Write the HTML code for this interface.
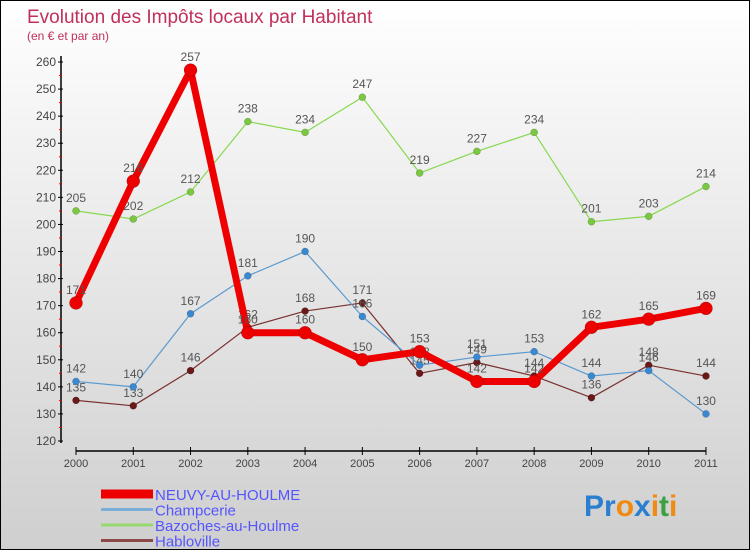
<!DOCTYPE html>
<html><head><meta charset="utf-8"><style>
body{margin:0}
#c{width:750px;height:550px;position:relative;background:linear-gradient(#ffffff,#f0f0f0 30%,#cfcfcf);border:1px solid #000;box-sizing:border-box;font-family:"Liberation Sans",sans-serif;overflow:hidden}
</style></head><body>
<div id="c">
<svg id="s" width="750" height="550" style="position:absolute;left:0;top:0">
<text x="26" y="22" font-size="19" fill="#c0305a">Evolution des Impôts locaux par Habitant</text>
<text x="26" y="39" font-size="12" fill="#c0305a">(en € et par an)</text>
<g id="axes"></g><g id="series"></g><g id="legend"></g>
<text x="583" y="515" font-size="30" font-weight="bold"><tspan fill="#2a7fd0">Pr</tspan><tspan fill="#f08a10">o</tspan><tspan fill="#2a7fd0">x</tspan><tspan fill="#f08a10">i</tspan><tspan fill="#3aa040">t</tspan><tspan fill="#f08a10">i</tspan></text>
</svg>
</div>
<script>
const years=[2000,2001,2002,2003,2004,2005,2006,2007,2008,2009,2010,2011];
const yTicks=[120,130,140,150,160,170,180,190,200,210,220,230,240,250,260];
const neuvy=[171,216,257,160,160,150,153,142,142,162,165,169];
const champcerie=[142,140,167,181,190,166,148,151,153,144,146,130];
const bazoches=[205,202,212,238,234,247,219,227,234,201,203,214];
const habloville=[135,133,146,162,168,171,145,149,144,136,148,144];
const seriesNames=["NEUVY-AU-HOULME","Champcerie","Bazoches-au-Houlme","Habloville"];
const NS="http://www.w3.org/2000/svg";
function X(i){return 75+i*57.27;}
function Y(v){return 440-(v-120)*2.707;}
function mk(tag,at,parent,txt){const e=document.createElementNS(NS,tag);for(const k in at)e.setAttribute(k,at[k]);if(txt!==undefined)e.textContent=txt;parent.appendChild(e);return e;}
const ax=document.getElementById('axes');
let l=mk('line',{x1:60,y1:55,x2:60,y2:442,stroke:'#000','stroke-width':1.5},ax);


l=mk('line',{x1:75,y1:450,x2:705,y2:450,stroke:'#000','stroke-width':1.5},ax);


yTicks.forEach(v=>{
 mk('line',{x1:57,y1:Y(v),x2:62,y2:Y(v),stroke:'#000'},ax);
 if(v<260) mk('line',{x1:58,y1:Y(v+5),x2:61,y2:Y(v+5),stroke:'#e00'},ax);
 const t=mk('text',{x:55,y:Y(v)+4,'text-anchor':'end','font-size':12,fill:'#444'},ax,v);
 
 
});
years.forEach((y,i)=>{
 mk('line',{x1:X(i),y1:446,x2:X(i),y2:454,stroke:'#000'},ax);
 const t=mk('text',{x:X(i),y:466,'text-anchor':'middle','font-size':11,fill:'#444'},ax,y);
 
 
});
const sg=document.getElementById('series');
const defs=[[bazoches,'#88d850','#7ac840',1.2,3.5],[habloville,'#7a3030','#6a1818',1.2,3.5],[champcerie,'#5a9ad0','#3a88d0',1.2,3.5],[neuvy,'#ee0000','#ee0000',7,6.5]];
const names=['bazoches','habloville','champcerie','neuvy'];
defs.forEach((d,k)=>{
 const g=mk('g',{},sg);
 
 
 const p=mk('polyline',{points:d[0].map((v,i)=>X(i)+','+Y(v)).join(' '),fill:'none',stroke:d[1],'stroke-width':d[3],'stroke-linejoin':'round'},g);
 
 
 d[0].forEach((v,i)=>{
  const c=mk('circle',{cx:X(i),cy:Y(v),r:d[4],fill:d[2],stroke:'rgba(0,0,0,0.3)','stroke-width':0.5},g);
  
  
  const t=mk('text',{x:X(i),y:Y(v)-9,'text-anchor':'middle','font-size':12,fill:'#555'},g,v);
  
  
 });
});
const lg=document.getElementById('legend');
const lc=['#ee0000','#7aaed8','#98d870','#8a4848'];const lw=[9,3,3,3];
seriesNames.forEach((n,k)=>{
 const y=493+k*15.5;
 const g=mk('g',{},lg);
 
 
 mk('line',{x1:100,y1:y,x2:152,y2:y,stroke:lc[k],'stroke-width':lw[k]},g);
 mk('text',{x:154,y:y+6,'font-size':15,fill:'#5555ff'},g,n);
});
</script>
</body></html>
